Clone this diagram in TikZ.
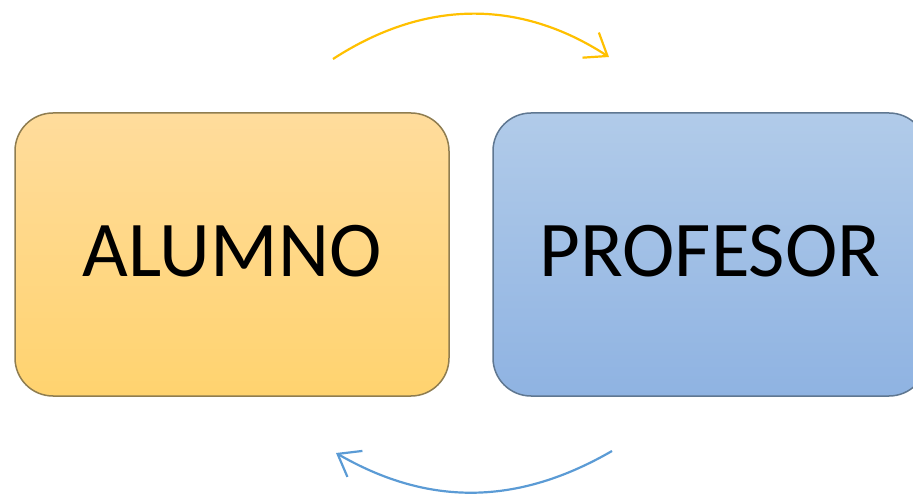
\documentclass[tikz,border=0pt]{standalone}
\usepackage{fontspec}
\setmainfont{Carlito}
\usetikzlibrary{arrows.meta}
\definecolor{goldtop}{HTML}{FFDC9C}
\definecolor{goldbot}{HTML}{FFD36F}
\definecolor{goldline}{HTML}{8F7D50}
\definecolor{bluetop}{HTML}{B1CBE9}
\definecolor{bluebot}{HTML}{8FB3E2}
\definecolor{blueline}{HTML}{5F7791}
\definecolor{arrgold}{HTML}{FFC000}
\definecolor{arrblue}{HTML}{5B9BD5}
\tikzset{
  card/.style={rectangle, rounded corners=38pt, minimum width=434pt, minimum height=283pt,
    inner sep=0pt, line width=1.5pt, font=\fontsize{79}{82}\selectfont, text=black},
  goldcard/.style={card, draw=goldline, top color=goldtop, bottom color=goldbot},
  bluecard/.style={card, draw=blueline, top color=bluetop, bottom color=bluebot},
  cyclearrow/.style={line width=2.2pt, -{Straight Barb[length=20pt,width=30pt,line width=2.2pt]}}
}
\begin{document}
\begin{tikzpicture}[x=1pt,y=1pt]
\useasboundingbox (0,0) rectangle (913,493);
\node[goldcard] (alumno) at (232,238.5) {\raisebox{7pt}{ALUMNO}};
\node[bluecard] (profesor) at (710,238.5) {\raisebox{7pt}{PROFESOR}};
\coordinate (ts) at (333,434);
\coordinate (te) at (609,436);
\coordinate (bs) at (612,42);
\coordinate (be) at (336,40);
\draw[cyclearrow, draw=arrgold] (ts) to[out=33,in=147] (te);
\draw[cyclearrow, draw=arrblue] (bs) to[out=-150,in=-30] (be);
\end{tikzpicture}
\end{document}
